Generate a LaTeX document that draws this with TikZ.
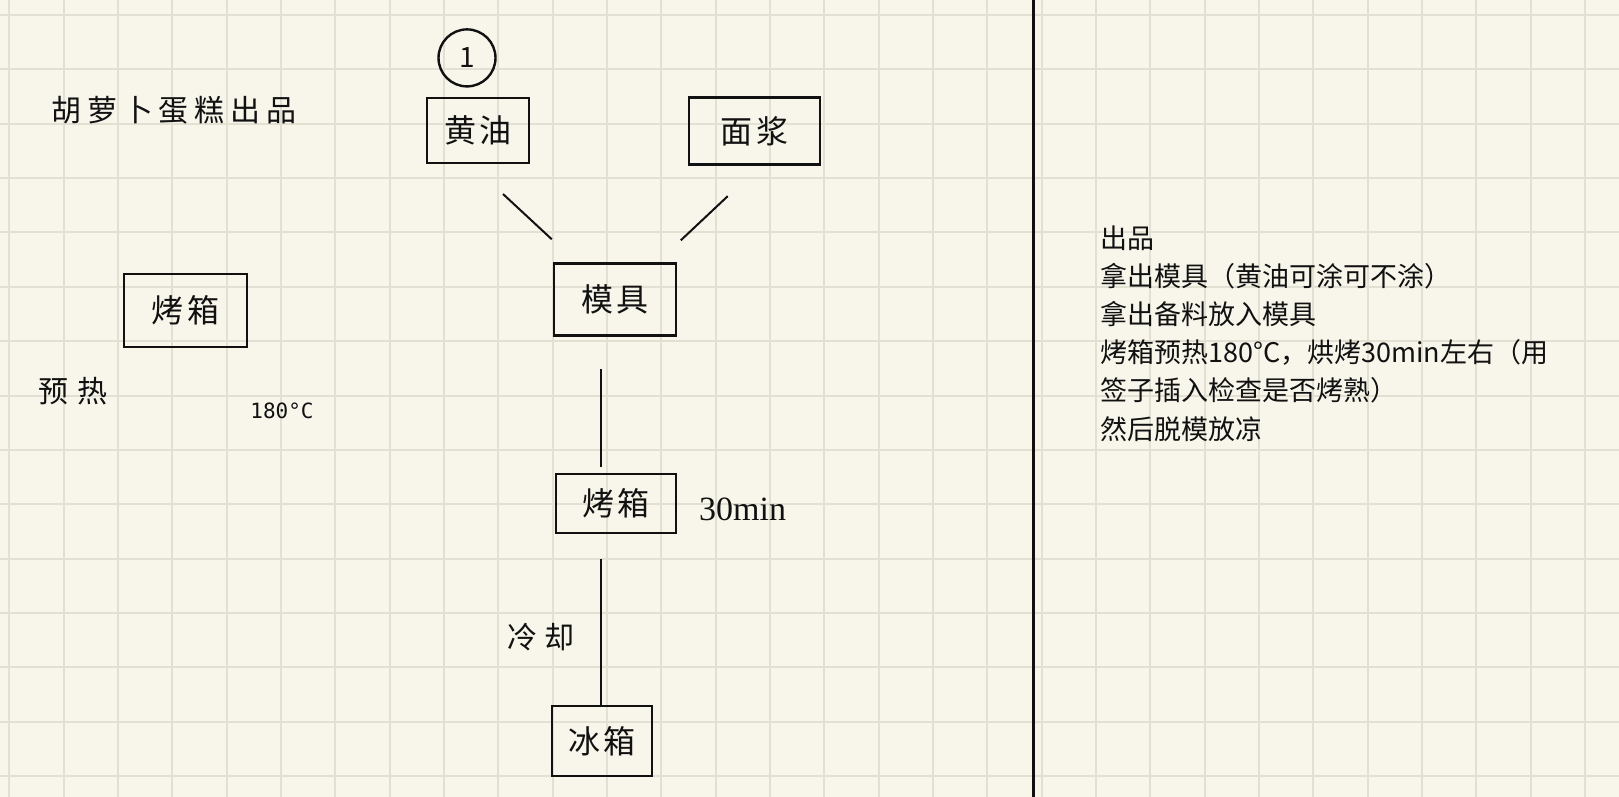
\documentclass[tikz,border=0pt]{standalone}
\usepackage{fontspec}
\usepackage{tikz}
\usetikzlibrary{positioning,calc}
\newfontfamily\cjk{Noto Sans CJK SC}
\newfontfamily\cjkhand[LetterSpace=11]{Noto Sans CJK SC}
\newfontfamily\degfont{DejaVu Sans Mono}
\newfontfamily\minfont{Liberation Serif}
\definecolor{cPaper}{HTML}{F8F6EB}
\definecolor{cGrid} {HTML}{E2DFD3}
\definecolor{cInk}  {HTML}{111111}
\tikzset{
  sbox/.style ={draw=cInk,line width=2.4pt,inner sep=0pt,align=center,text=cInk,
                font=\cjkhand\fontsize{32}{36}\selectfont},
  shand/.style={inner sep=0pt,text=cInk,font=\cjk\fontsize{30}{36}\selectfont},
  snote/.style={inner sep=0pt,anchor=base west,text=cInk,
                font=\cjk\fontsize{27}{30}\selectfont},
  sln/.style  ={draw=cInk,line width=2pt},
  sgrid/.style={draw=cGrid,line width=2pt},
}

\begin{document}
\begin{tikzpicture}[x=1pt,y=-1pt]
    \useasboundingbox[fill=cPaper] (0,0) rectangle (1619,797);
    \foreach \i in {0,...,29} \draw[sgrid] ({9.3+54.33*\i},0) -- ++(0,797);
    \foreach \j in {0,...,14} \draw[sgrid] (0,{15+54.36*\j}) -- ++(1619,0);
    \draw[cInk,line width=2.7pt] (1033.3,0) -- (1033.3,797);

    \node[shand] (title) at (174,110) {\addfontfeature{LetterSpace=19}胡萝卜蛋糕出品};
    \node[sbox,minimum width=102,minimum height=65] (hy) at (478,130.3) {黄油};
    \node[sbox,minimum width=131,minimum height=67] (mm) at (754.7,131) {面浆};
    \node[draw=cInk,line width=2.4pt,circle,minimum size=57,inner sep=0pt,text=cInk,
          font=\cjk\fontsize{28}{30}\selectfont,above=9pt of hy,xshift=-11pt] (no) {1};
    \node[sbox,minimum width=122,minimum height=72] (mj) at (614.8,299.5) {模具};
    \node[sbox,minimum width=123,minimum height=73] (kxa) at (185.3,310.3) {烤箱};
    \node[shand] (yr) at (73,391) {\addfontfeature{LetterSpace=30}预热};
    \node[inner sep=0pt,text=cInk,font=\degfont\fontsize{21}{24}\selectfont] (wd) at (282,410.5) {180°C};
    \node[sbox,minimum width=120,minimum height=59] (kxb) at (615.8,503.7) {烤箱};
    \node[inner sep=0pt,anchor=base west,text=cInk,font=\minfont\fontsize{34}{40}\selectfont] (sj) at (699,520) {30min};
    \node[shand] (lq) at (541,637) {\addfontfeature{LetterSpace=21}冷却};
    \node[sbox,minimum width=100,minimum height=70] (bx) at (602,741) {冰箱};

    % connectors stop short of the boxes
    \coordinate (hy-o) at ($(hy.south)+(25,30)$);
    \coordinate (mj-l) at ($(mj.north)+(-63,-23)$);
    \coordinate (mm-o) at ($(mm.south)+(-27,30.5)$);
    \coordinate (mj-r) at ($(mj.north)+(66,-22)$);
    \coordinate (mj-o) at ($(mj.south)+(-14,32.5)$);
    \coordinate (kxb-i) at ($(kxb.north)+(-15,-6)$);
    \coordinate (kxb-o) at ($(kxb.south)+(-14.5,25)$);
    \draw[sln] (hy-o) -- (mj-l);
    \draw[sln] (mm-o) -- (mj-r);
    \draw[sln] (mj-o) -- (kxb-i);
    \draw[sln] (kxb-o) -- (kxb-o |- bx.north);

    \foreach \t [count=\i] in {出品,拿出模具（黄油可涂可不涂）,拿出备料放入模具,
        烤箱预热180°C，烘烤30min左右（用,签子插入检查是否烤熟）,然后脱模放凉}
      \node[snote] (n\i) at (1100,{248+38.2*(\i-1)}) {\t};
  \end{tikzpicture}
\end{document}
